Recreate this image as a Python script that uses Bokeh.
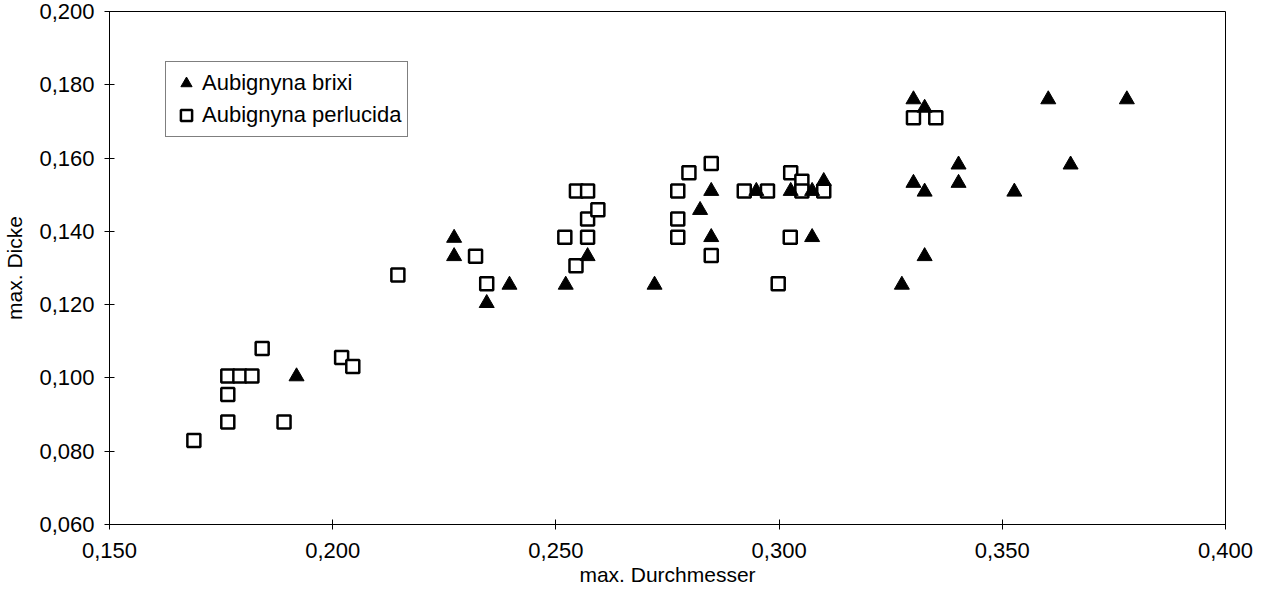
from bokeh.plotting import figure
from bokeh.models import (Range1d, FixedTicker, CustomJSTickFormatter, Legend, LegendItem,
                          ColumnDataSource)
from bokeh.embed import file_html
from bokeh.resources import INLINE

# Aubignyna brixi (filled triangles)
brixi_x = [0.1919, 0.2272, 0.2272, 0.2345, 0.2396, 0.2522, 0.2571, 0.2721, 0.2823, 0.2848,
           0.2848, 0.2949, 0.3026, 0.3074, 0.3100, 0.3074, 0.3275, 0.3301, 0.3326, 0.3301,
           0.3326, 0.3326, 0.3402, 0.3402, 0.3527, 0.3603, 0.3653, 0.3779]
brixi_y = [0.1004, 0.1332, 0.1382, 0.1204, 0.1254, 0.1254, 0.1332, 0.1254, 0.1458, 0.1510,
           0.1384, 0.1510, 0.1510, 0.1510, 0.1537, 0.1384, 0.1254, 0.1760, 0.1737, 0.1532,
           0.1508, 0.1332, 0.1582, 0.1532, 0.1508, 0.1760, 0.1582, 0.1760]

# Aubignyna perlucida (open squares)
perl_x = [0.1689, 0.1765, 0.1891, 0.1765, 0.1765, 0.1792, 0.1819, 0.1842, 0.2020, 0.2045,
          0.2146, 0.2320, 0.2345, 0.2545, 0.2520, 0.2571, 0.2571, 0.2594, 0.2546, 0.2571,
          0.2773, 0.2798, 0.2848, 0.2773, 0.2773, 0.2848, 0.2922, 0.2974, 0.3026, 0.3051,
          0.3051, 0.3100, 0.3025, 0.2998, 0.3301, 0.3351]
perl_y = [0.0829, 0.0880, 0.0880, 0.0955, 0.1005, 0.1005, 0.1005, 0.1080, 0.1056, 0.1031,
          0.1281, 0.1332, 0.1257, 0.1306, 0.1384, 0.1384, 0.1434, 0.1459, 0.1510, 0.1510,
          0.1510, 0.1560, 0.1585, 0.1434, 0.1384, 0.1334, 0.1510, 0.1510, 0.1560, 0.1537,
          0.1510, 0.1510, 0.1384, 0.1257, 0.1710, 0.1710]

x_ticks = [0.15, 0.20, 0.25, 0.30, 0.35, 0.40]
y_ticks = [0.06, 0.08, 0.10, 0.12, 0.14, 0.16, 0.18, 0.20]

FONT = "Liberation Sans"

p = figure(width=1260, height=595, output_backend="svg", toolbar_location=None,
           x_range=Range1d(0.15, 0.40), y_range=Range1d(0.06, 0.20))
p.min_border_left = 105
p.min_border_right = 35
p.min_border_top = 11
p.min_border_bottom = 71
p.background_fill_color = "white"
p.border_fill_color = "white"
p.outline_line_color = "black"
p.outline_line_width = 1
p.xgrid.visible = False
p.ygrid.visible = False

fmt = CustomJSTickFormatter(code="return tick.toFixed(3).replace('.', ',');")
for ax, ticks in ((p.xaxis[0], x_ticks), (p.yaxis[0], y_ticks)):
    ax.ticker = FixedTicker(ticks=ticks)
    ax.formatter = fmt
    ax.minor_tick_line_color = None
    ax.major_tick_in = 5
    ax.major_tick_out = 5
    ax.axis_line_color = "black"
    ax.major_tick_line_color = "black"
    ax.major_label_text_font = FONT
    ax.major_label_text_font_size = "22px"
    ax.major_label_text_color = "black"
    ax.axis_label_text_font = FONT
    ax.axis_label_text_font_size = "21px"
    ax.axis_label_text_font_style = "normal"
    ax.axis_label_text_color = "black"

p.xaxis[0].axis_label = "max. Durchmesser"
p.yaxis[0].axis_label = "max. Dicke"
p.xaxis[0].major_label_standoff = 13
p.yaxis[0].major_label_standoff = 10
p.xaxis[0].axis_label_standoff = 2
p.yaxis[0].axis_label_standoff = 10

src_p = ColumnDataSource(dict(x=perl_x, y=perl_y))
src_b = ColumnDataSource(dict(x=brixi_x, y=brixi_y))

r_p = p.scatter("x", "y", source=src_p, marker="square", size=13,
                fill_color="white", line_color="black", line_width=2.5)
r_b = p.scatter("x", "y", source=src_b, marker="triangle", size=15,
                fill_color="black", line_color="black", line_width=1)

legend = Legend(items=[LegendItem(label="Aubignyna brixi", renderers=[r_b]),
                       LegendItem(label="Aubignyna perlucida", renderers=[r_p])],
                location=(56, 387))
legend.label_text_font = FONT
legend.label_text_font_size = "22px"
legend.label_text_color = "black"
legend.border_line_color = "black"
legend.border_line_width = 1
legend.background_fill_color = "white"
legend.background_fill_alpha = 1
legend.padding = 6
legend.spacing = 2
legend.margin = 0
legend.glyph_width = 28
legend.glyph_height = 30
legend.label_height = 30
legend.label_standoff = 2
p.add_layout(legend, "center")

open("out.html", "w").write(file_html(p, INLINE))
